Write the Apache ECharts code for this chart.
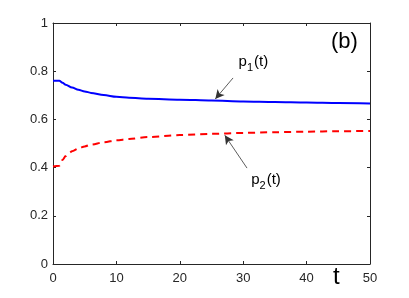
<!DOCTYPE html>
<html>
<head>
<meta charset="utf-8">
<script src="https://cdn.jsdelivr.net/npm/echarts@6/dist/echarts.min.js"></script>
<style>html,body{margin:0;padding:0;background:#fff}#c{width:409px;height:298px}</style>
</head>
<body>
<div id="c"></div>
<script>
var tBlue = [0, 1, 1.5, 2, 3, 4, 5, 6, 8, 10, 12, 15, 20, 25, 30, 35, 40, 45, 50];
var p1 = [0.760, 0.760, 0.752, 0.744, 0.732, 0.723, 0.716, 0.710, 0.701, 0.694, 0.690, 0.686, 0.682, 0.678, 0.674, 0.672, 0.670, 0.668, 0.666];
var tRed = [0, 1, 1.5, 2, 2.5, 3, 4, 5, 6, 8, 10, 12, 15, 20, 25, 30, 35, 40, 45, 50];
var p2 = [0.405, 0.408, 0.432, 0.448, 0.460, 0.468, 0.479, 0.488, 0.495, 0.505, 0.513, 0.519, 0.527, 0.535, 0.540, 0.544, 0.547, 0.549, 0.551, 0.552];
var xTicks = [0, 10, 20, 30, 40, 50];
var yTicks = [0, 0.2, 0.4, 0.6, 0.8, 1];
var arrow1 = [[28.4, 0.772], [25.6, 0.685]];
var arrow2 = [[30.6, 0.398], [27.1, 0.534]];
var label1 = [31.6, 0.830];
var label2 = [33.6, 0.338];

var font = 'Liberation Sans, Arial, Helvetica, sans-serif';
var axisCol = '#262626';
function zip(a, b) { return a.map(function (v, i) { return [v, b[i]]; }); }

var chart = echarts.init(document.getElementById('c'), null, {renderer: 'canvas'});
var baseX = {
  type: 'value', min: xTicks[0], max: xTicks[xTicks.length - 1], interval: 10,
  axisLine: {show: true, onZero: false, lineStyle: {color: axisCol, width: 1}},
  axisTick: {show: true, inside: true, length: 3, lineStyle: {color: axisCol}},
  splitLine: {show: false}
};
var baseY = {
  type: 'value', min: yTicks[0], max: yTicks[yTicks.length - 1], interval: 0.2,
  axisLine: {show: true, onZero: false, lineStyle: {color: axisCol, width: 1}},
  axisTick: {show: true, inside: true, length: 3, lineStyle: {color: axisCol}},
  splitLine: {show: false}
};
function richLabel(sub) {
  return {
    show: true, position: 'inside', color: '#000', fontFamily: font,
    formatter: '{a|p}{s|' + sub + '}{a|(t)}',
    rich: {
      a: {fontSize: 15, fontFamily: font, color: '#000', lineHeight: 18, verticalAlign: 'bottom', padding: [0, 0, 4, 0]},
      s: {fontSize: 11, fontFamily: font, color: '#000', lineHeight: 13, verticalAlign: 'bottom', padding: [0, 1, 0, 0]}
    }
  };
}
var option = {
  animation: false,
  backgroundColor: '#fff',
  grid: {left: 53, right: 39, top: 23, bottom: 34, containLabel: false},
  xAxis: [
    Object.assign({}, baseX, {position: 'bottom', axisLabel: {show: true, margin: 8, fontSize: 13, color: axisCol, fontFamily: font}}),
    Object.assign({}, baseX, {position: 'top', axisLabel: {show: false}})
  ],
  yAxis: [
    Object.assign({}, baseY, {position: 'left', axisLabel: {show: true, margin: 5, fontSize: 13, color: axisCol, fontFamily: font}}),
    Object.assign({}, baseY, {position: 'right', axisLabel: {show: false}})
  ],
  series: [
    {
      type: 'line', xAxisIndex: 0, yAxisIndex: 0, data: zip(tBlue, p1),
      showSymbol: false, smooth: 0.3, smoothMonotone: 'x',
      lineStyle: {color: '#0000ff', width: 2},
      markLine: {
        silent: true, symbol: ['none', 'arrow'], symbolSize: [7, 9],
        lineStyle: {color: '#333', width: 0.8, type: 'solid'}, label: {show: false},
        data: [[{coord: arrow1[0]}, {coord: arrow1[1]}]]
      },
      markPoint: {
        silent: true, symbol: 'circle', symbolSize: 0,
        data: [{coord: label1, label: richLabel('1')}]
      }
    },
    {
      type: 'line', xAxisIndex: 0, yAxisIndex: 0, data: zip(tRed, p2),
      showSymbol: false, smooth: 0.3, smoothMonotone: 'x',
      lineStyle: {color: '#ff0000', width: 2, type: [7, 5]},
      markLine: {
        silent: true, symbol: ['none', 'arrow'], symbolSize: [7, 9],
        lineStyle: {color: '#333', width: 0.8, type: 'solid'}, label: {show: false},
        data: [[{coord: arrow2[0]}, {coord: arrow2[1]}]]
      },
      markPoint: {
        silent: true, symbol: 'circle', symbolSize: 0,
        data: [{coord: label2, label: richLabel('2')}]
      }
    }
  ],
  graphic: [
    {type: 'text', left: 331, top: 31, style: {text: '(b)', font: '22px ' + font, fill: '#000'}},
    {type: 'text', left: 333, top: 265, style: {text: 't', font: '24px ' + font, fill: '#000'}}
  ]
};
chart.setOption(option);
</script>
</body>
</html>
